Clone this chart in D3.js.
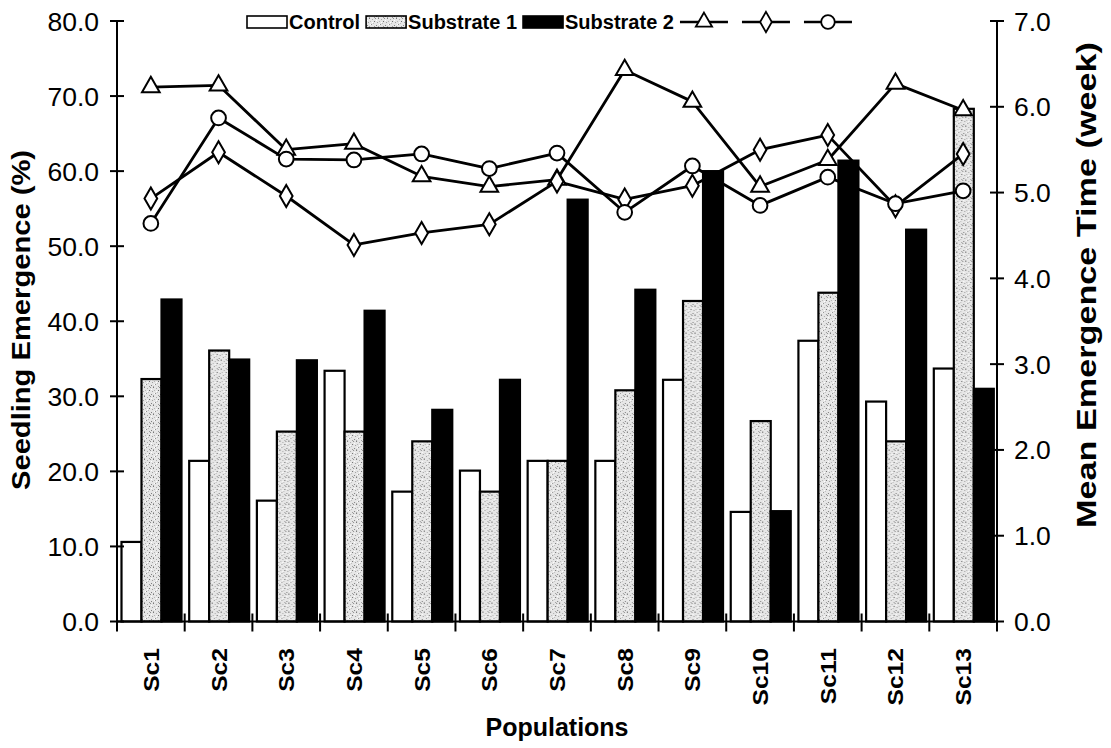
<!DOCTYPE html>
<html>
<head>
<meta charset="utf-8">
<script src="https://cdn.jsdelivr.net/npm/d3@7"></script>
<style>
  html, body { margin: 0; padding: 0; background: #fff; }
  svg { display: block; font-family: "Liberation Sans", Arial, sans-serif; }
</style>
</head>
<body>
<svg id="chart" width="1111" height="748"></svg>
<script>
// Populations on the x axis
const categories = ["Sc1","Sc2","Sc3","Sc4","Sc5","Sc6","Sc7","Sc8","Sc9","Sc10","Sc11","Sc12","Sc13"];

// Seedling emergence (%) per treatment
const barSeries = ["Control", "Substrate 1", "Substrate 2"];
const control    = [10.6, 21.4, 16.1, 33.4, 17.3, 20.1, 21.4, 21.4, 32.2, 14.6, 37.4, 29.3, 33.7];
const substrate1 = [32.3, 36.1, 25.3, 25.3, 24.0, 17.3, 21.4, 30.8, 42.7, 26.7, 43.8, 24.0, 68.3];
const substrate2 = [42.9, 34.9, 34.8, 41.4, 28.2, 32.2, 56.2, 44.2, 60.0, 14.7, 61.4, 52.2, 31.0];

// Mean emergence time (week) per treatment
const metTriangle = [6.23, 6.25, 5.50, 5.57, 5.19, 5.07, 5.15, 6.43, 6.06, 5.07, 5.38, 6.27, 5.96];
const metDiamond  = [4.93, 5.47, 4.96, 4.39, 4.53, 4.63, 5.13, 4.92, 5.08, 5.50, 5.67, 4.84, 5.45];
const metCircle   = [4.64, 5.87, 5.39, 5.38, 5.45, 5.28, 5.46, 4.77, 5.31, 4.85, 5.18, 4.87, 5.02];

// Axis ticks
const leftTicks  = [0, 10, 20, 30, 40, 50, 60, 70, 80];
const rightTicks = [0, 1, 2, 3, 4, 5, 6, 7];

const svg = d3.select("#chart");

const plot = { left: 117, right: 997, top: 21, bottom: 621.5 };

const x = d3.scaleBand().domain(categories).range([plot.left, plot.right]).padding(0);
const xSub = d3.scaleBand().domain(barSeries).range([4.5, 64.5]).padding(0);
const yL = d3.scaleLinear().domain([0, 80]).range([plot.bottom, plot.top]);
const yR = d3.scaleLinear().domain([0, 7]).range([plot.bottom, plot.top]);

// Stippled fill for Substrate 1
const defs = svg.append("defs");
const pat = defs.append("pattern").attr("id", "stipple")
  .attr("patternUnits", "userSpaceOnUse").attr("width", 9).attr("height", 9);
pat.append("rect").attr("width", 9).attr("height", 9).attr("fill", "#e6e6e6");
const dots = [[0,0],[3,1],[6,0],[1,3],[5,3],[8,4],[2,6],[4,5],[7,7],[0,8],[5,8],[3,4],[7,2],[1,6]];
const dotShade = ["#777","#aaa","#8c8c8c","#b5b5b5","#6e6e6e","#a0a0a0","#909090","#bdbdbd","#7f7f7f","#a8a8a8","#999","#fff","#fff","#fff"];
dots.forEach((d, i) => pat.append("rect").attr("x", d[0]).attr("y", d[1])
  .attr("width", 1).attr("height", 1).attr("fill", dotShade[i]));

const barFill = { "Control": "#ffffff", "Substrate 1": "url(#stipple)", "Substrate 2": "#000000" };
const barData = { "Control": control, "Substrate 1": substrate1, "Substrate 2": substrate2 };

// Bars
const groups = svg.append("g").selectAll("g").data(categories).join("g")
  .attr("transform", d => `translate(${x(d)},0)`);
groups.selectAll("rect")
  .data((c, i) => barSeries.map(s => ({ s, v: barData[s][i] })))
  .join("rect")
  .attr("x", d => xSub(d.s))
  .attr("width", xSub.bandwidth())
  .attr("y", d => yL(d.v))
  .attr("height", d => yL(0) - yL(d.v))
  .attr("fill", d => barFill[d.s])
  .attr("stroke", "#000")
  .attr("stroke-width", 2.2);

// Axes
const axisG = svg.append("g").attr("stroke", "#000").attr("stroke-width", 2);
axisG.append("line").attr("x1", plot.left).attr("x2", plot.left).attr("y1", plot.top).attr("y2", plot.bottom + 1);
axisG.append("line").attr("x1", plot.right).attr("x2", plot.right).attr("y1", plot.top).attr("y2", plot.bottom + 1);
axisG.append("line").attr("x1", plot.left).attr("x2", plot.right).attr("y1", plot.bottom).attr("y2", plot.bottom);

axisG.selectAll(".tl").data(leftTicks).join("line")
  .attr("x1", plot.left - 7).attr("x2", plot.left + 7)
  .attr("y1", d => yL(d)).attr("y2", d => yL(d));
axisG.selectAll(".tr").data(rightTicks).join("line")
  .attr("x1", plot.right - 7).attr("x2", plot.right + 7)
  .attr("y1", d => yR(d)).attr("y2", d => yR(d));
const catEdges = categories.map(c => x(c)).concat([plot.right]);
axisG.selectAll(".tx").data(catEdges).join("line")
  .attr("x1", d => d).attr("x2", d => d)
  .attr("y1", plot.bottom - 8).attr("y2", plot.bottom + 10);

// Tick labels
const tickFont = 26.5;
svg.append("g").selectAll("text").data(leftTicks).join("text")
  .attr("x", 99).attr("y", d => yL(d) + 9.5)
  .attr("text-anchor", "end").attr("font-size", tickFont)
  .text(d => d3.format(".1f")(d));
svg.append("g").selectAll("text").data(rightTicks).join("text")
  .attr("x", 1014).attr("y", d => yR(d) + 9.5)
  .attr("text-anchor", "start").attr("font-size", tickFont)
  .text(d => d3.format(".1f")(d));

svg.append("g").selectAll("text").data(categories).join("text")
  .attr("transform", d => `translate(${x(d) + x.bandwidth() / 2 + 8},648) rotate(-90) scale(1.12,1)`)
  .attr("text-anchor", "end").attr("font-size", 22).attr("font-weight", "bold")
  .text(d => d);

// Axis titles
svg.append("text").attr("x", 557).attr("y", 736).attr("text-anchor", "middle")
  .attr("font-size", 25).attr("font-weight", "bold").text("Populations");
svg.append("text").attr("transform", "translate(30,320) rotate(-90) scale(1.1,1)")
  .attr("text-anchor", "middle").attr("font-size", 26.5).attr("font-weight", "bold")
  .text("Seedling Emergence (%)");
svg.append("text").attr("transform", "translate(1096,285) rotate(-90) scale(1.2,1)")
  .attr("text-anchor", "middle").attr("font-size", 28.5).attr("font-weight", "bold")
  .text("Mean Emergence Time (week)");

// Lines with markers (right axis)
const cx = c => x(c) + x.bandwidth() / 2;
const lineGen = d3.line().x(d => cx(d.c)).y(d => yR(d.v));
const lineSeries = [
  { name: "triangle", values: metTriangle, symbol: d3.symbolTriangle, size: 135 },
  { name: "diamond",  values: metDiamond,  symbol: d3.symbolDiamond,  size: 140 },
  { name: "circle",   values: metCircle,   symbol: d3.symbolCircle,   size: 170 }
];
lineSeries.forEach(s => {
  const pts = categories.map((c, i) => ({ c, v: s.values[i] }));
  svg.append("path").datum(pts).attr("d", lineGen)
    .attr("fill", "none").attr("stroke", "#000").attr("stroke-width", 2.8)
    .attr("stroke-linejoin", "round");
});
lineSeries.forEach(s => {
  const pts = categories.map((c, i) => ({ c, v: s.values[i] }));
  svg.append("g").selectAll("path").data(pts).join("path")
    .attr("transform", d => `translate(${cx(d.c)},${yR(d.v)})`)
    .attr("d", d3.symbol().type(s.symbol).size(s.size))
    .attr("fill", "#fff").attr("stroke", "#000").attr("stroke-width", 2);
});

// Legend
const leg = svg.append("g").attr("font-size", 20).attr("font-weight", "bold");
let lx = 247;
const ly = 22;
barSeries.forEach(s => {
  leg.append("rect").attr("x", lx).attr("y", ly - 6).attr("width", 40).attr("height", 12)
    .attr("fill", barFill[s]).attr("stroke", "#000").attr("stroke-width", 1.6);
  lx += 42;
  const t = leg.append("text").attr("x", lx).attr("y", ly + 7).text(s);
  lx += t.node().getComputedTextLength() + 6;
});
lineSeries.forEach(s => {
  leg.append("line").attr("x1", lx).attr("x2", lx + 48).attr("y1", ly).attr("y2", ly)
    .attr("stroke", "#000").attr("stroke-width", 2.4);
  leg.append("path").attr("transform", `translate(${lx + 24},${ly})`)
    .attr("d", d3.symbol().type(s.symbol).size(s.size * 0.85))
    .attr("fill", "#fff").attr("stroke", "#000").attr("stroke-width", 1.8);
  lx += 62;
});
</script>
</body>
</html>
